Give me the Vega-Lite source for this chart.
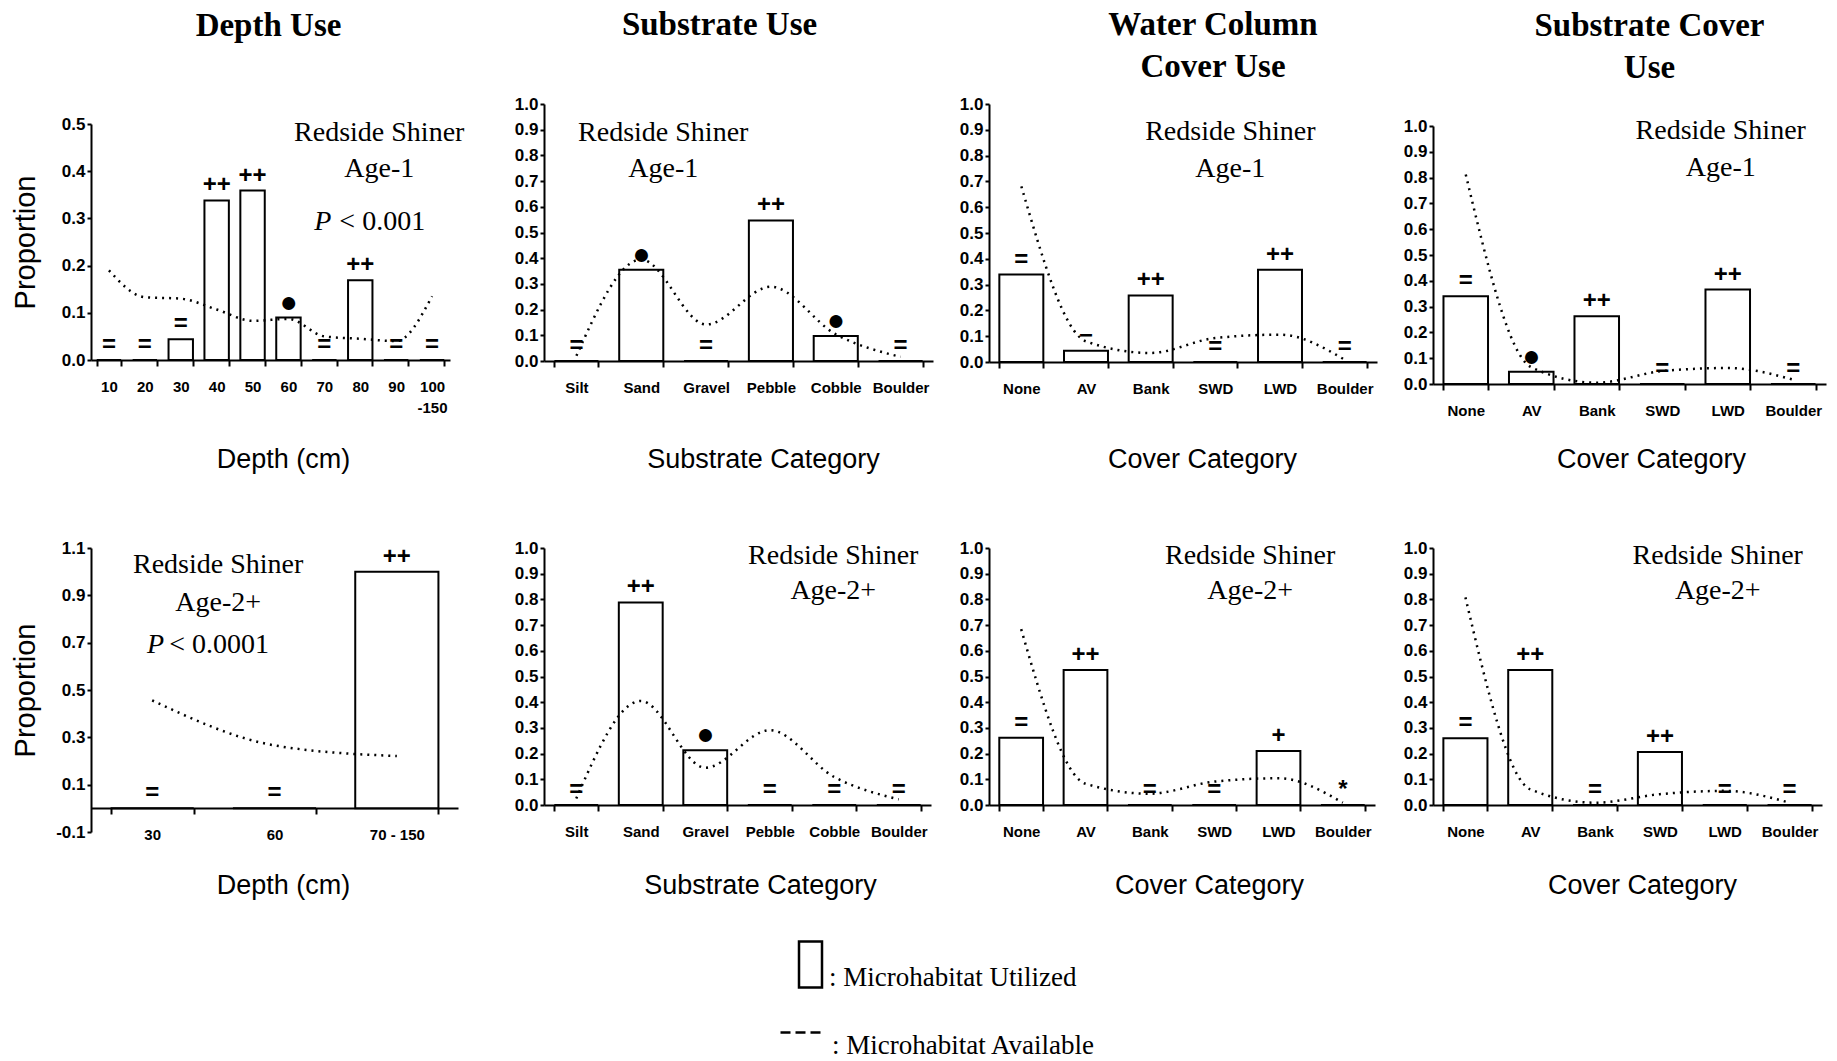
{
  "$schema": "https://vega.github.io/schema/vega-lite/v6.json",
  "background": "white",
  "padding": {"left": 10, "top": 9, "right": 5, "bottom": 5},
  "config": {
    "view": {"stroke": null},
    "font": "Liberation Sans",
    "axis": {"grid": false, "domainColor": "black", "domainWidth": 2, "tickColor": "black", "tickWidth": 2, "labelColor": "black", "labelFont": "Liberation Sans", "labelFontWeight": "bold", "labelFontSize": 17, "titleColor": "black", "titleFont": "Liberation Sans", "titleFontWeight": "normal", "titleFontSize": 27, "labelOverlap": false},
    "axisX": {"tickSize": 6, "labelPadding": 13, "labelAngle": 0, "tickBand": "extent", "labelFontSize": 15, "titleBaseline": "alphabetic", "labelLineHeight": 21},
    "axisY": {"tickSize": 4, "labelPadding": 2},
    "title": {"font": "Liberation Serif", "fontSize": 33, "fontWeight": "bold", "color": "black", "lineHeight": 42, "anchor": "middle", "offset": 15},
    "legend": {"padding": 0, "labelLimit": 0}
  },
  "datasets": {
    "depth1": [
      {"cat": "10", "used": 0, "avail": 0.19, "sig": "="},
      {"cat": "20", "used": 0, "avail": 0.133, "sig": "="},
      {"cat": "30", "used": 0.044, "avail": 0.13, "sig": "="},
      {"cat": "40", "used": 0.338, "avail": 0.107, "sig": "++"},
      {"cat": "50", "used": 0.359, "avail": 0.083, "sig": "++"},
      {"cat": "60", "used": 0.09, "avail": 0.087, "sig": "●"},
      {"cat": "70", "used": 0, "avail": 0.05, "sig": "="},
      {"cat": "80", "used": 0.169, "avail": 0.045, "sig": "++"},
      {"cat": "90", "used": 0, "avail": 0.04, "sig": "="},
      {"cat": "100-150", "used": 0, "avail": 0.135, "sig": "="}
    ],
    "sub1": [
      {"cat": "Silt", "used": 0, "avail": 0.02, "sig": "="},
      {"cat": "Sand", "used": 0.355, "avail": 0.395, "sig": "●"},
      {"cat": "Gravel", "used": 0, "avail": 0.142, "sig": "="},
      {"cat": "Pebble", "used": 0.547, "avail": 0.289, "sig": "++"},
      {"cat": "Cobble", "used": 0.097, "avail": 0.104, "sig": "●"},
      {"cat": "Boulder", "used": 0, "avail": 0.016, "sig": "="}
    ],
    "wc1": [
      {"cat": "None", "used": 0.339, "avail": 0.681, "sig": "="},
      {"cat": "AV", "used": 0.044, "avail": 0.08, "sig": "−"},
      {"cat": "Bank", "used": 0.258, "avail": 0.035, "sig": "++"},
      {"cat": "SWD", "used": 0, "avail": 0.093, "sig": "="},
      {"cat": "LWD", "used": 0.358, "avail": 0.106, "sig": "++"},
      {"cat": "Boulder", "used": 0, "avail": 0.009, "sig": "="}
    ],
    "sc1": [
      {"cat": "None", "used": 0.34, "avail": 0.812, "sig": "="},
      {"cat": "AV", "used": 0.047, "avail": 0.065, "sig": "●"},
      {"cat": "Bank", "used": 0.263, "avail": 0.005, "sig": "++"},
      {"cat": "SWD", "used": 0, "avail": 0.05, "sig": "="},
      {"cat": "LWD", "used": 0.366, "avail": 0.062, "sig": "++"},
      {"cat": "Boulder", "used": 0, "avail": 0.017, "sig": "="}
    ],
    "depth2": [
      {"cat": "30", "used": 0, "avail": 0.456, "sig": "="},
      {"cat": "60", "used": 0, "avail": 0.266, "sig": "="},
      {"cat": "70 - 150", "used": 1.0, "avail": 0.221, "sig": "++"}
    ],
    "sub2": [
      {"cat": "Silt", "used": 0, "avail": 0.025, "sig": "="},
      {"cat": "Sand", "used": 0.788, "avail": 0.405, "sig": "++"},
      {"cat": "Gravel", "used": 0.213, "avail": 0.145, "sig": "●"},
      {"cat": "Pebble", "used": 0, "avail": 0.291, "sig": "="},
      {"cat": "Cobble", "used": 0, "avail": 0.109, "sig": "="},
      {"cat": "Boulder", "used": 0, "avail": 0.022, "sig": "="}
    ],
    "wc2": [
      {"cat": "None", "used": 0.262, "avail": 0.684, "sig": "="},
      {"cat": "AV", "used": 0.525, "avail": 0.083, "sig": "++"},
      {"cat": "Bank", "used": 0, "avail": 0.044, "sig": "="},
      {"cat": "SWD", "used": 0, "avail": 0.091, "sig": "="},
      {"cat": "LWD", "used": 0.21, "avail": 0.104, "sig": "+"},
      {"cat": "Boulder", "used": 0, "avail": 0.009, "sig": "*"}
    ],
    "sc2": [
      {"cat": "None", "used": 0.26, "avail": 0.808, "sig": "="},
      {"cat": "AV", "used": 0.525, "avail": 0.061, "sig": "++"},
      {"cat": "Bank", "used": 0, "avail": 0.009, "sig": "="},
      {"cat": "SWD", "used": 0.206, "avail": 0.042, "sig": "++"},
      {"cat": "LWD", "used": 0, "avail": 0.055, "sig": "="},
      {"cat": "Boulder", "used": 0, "avail": 0.009, "sig": "="}
    ]
  },
  "columns": 4,
  "spacing": {"row": 164, "column": 56},
  "bounds": "flush",
  "concat": [
    {
      "data": {"name": "depth1"}, "width": 397, "height": 280,
      "title": {"text": ["Depth Use", " "], "dx": -21, "offset": 19},
      "encoding": {"x": {"field": "cat", "type": "nominal", "scale": {"domain": ["10","20","30","40","50","60","70","80","90","100-150"], "range": [0, 359], "paddingInner": 0.32, "paddingOuter": 0.16}, "axis": {"title": "Depth (cm)", "offset": -24, "titleX": 192, "titleY": 107, "labelExpr": "datum.value == '100-150' ? ['100', '-150'] : datum.value"}}},
      "layer": [
        {"mark": {"type": "bar", "stroke": "black", "strokeWidth": 2},
         "encoding": {
           "y": {"field": "used", "type": "quantitative", "scale": {"domain": [0, 0.5], "range": [256, 20], "nice": false}, "axis": {"title": "Proportion", "values": [0, 0.1, 0.2, 0.3, 0.4, 0.5], "format": ".1f", "labelOverlap": false, "titleX": -66, "titleBaseline": "middle", "titleFontSize": 29}},
           "fill": {"datum": "Microhabitat Utilized", "scale": {"range": ["white"]}, "legend": {"orient": "none", "legendX": 695, "legendY": 836, "title": null, "symbolType": "M-0.5,-1H0.5V1H-0.5Z", "symbolSize": 2116, "symbolStrokeColor": "black", "symbolStrokeWidth": 2.5, "symbolFillColor": "white", "labelOffset": -6, "labelBaseline": "top", "labelExpr": "': ' + datum.label", "labelFont": "Liberation Serif", "labelFontSize": 27, "labelColor": "black"}}
         }},
        {"mark": {"type": "line", "color": "black", "strokeWidth": 2.5, "interpolate": "monotone", "strokeDash": [2, 5], "strokeCap": "butt"},
         "encoding": {"y": {"field": "avail", "type": "quantitative", "axis": {"title": "Proportion", "values": [0, 0.1, 0.2, 0.3, 0.4, 0.5], "format": ".1f", "labelOverlap": false, "titleX": -66, "titleBaseline": "middle", "titleFontSize": 29}}}},
        {"data": {"values": [{}]}, "mark": {"type": "line", "color": "black", "strokeWidth": 2.5},
         "encoding": {
           "x": {"datum": "10"}, "y": {"datum": 0, "axis": {"title": "Proportion", "values": [0, 0.1, 0.2, 0.3, 0.4, 0.5], "format": ".1f", "labelOverlap": false, "titleX": -66, "titleBaseline": "middle", "titleFontSize": 29}},
           "strokeDash": {"datum": "Microhabitat Available", "scale": {"range": [[10, 5]]}, "legend": {"orient": "none", "legendX": 688, "legendY": 907, "title": null, "symbolType": "stroke", "symbolSize": 1600, "symbolStrokeColor": "black", "symbolStrokeWidth": 2.5, "labelOffset": 10, "labelBaseline": "top", "labelExpr": "': ' + datum.label", "labelFont": "Liberation Serif", "labelFontSize": 27, "labelColor": "black"}}
         }},
        {"mark": {"type": "text", "font": "Liberation Sans", "fontWeight": "bold", "baseline": "middle", "dy": -15, "color": "black"},
         "encoding": {"y": {"field": "used", "type": "quantitative", "axis": {"title": "Proportion", "values": [0, 0.1, 0.2, 0.3, 0.4, 0.5], "format": ".1f", "labelOverlap": false, "titleX": -66, "titleBaseline": "middle", "titleFontSize": 29}}, "text": {"field": "sig"}, "size": {"condition": {"test": "datum.sig == '●'", "value": 30}, "value": 24}}},
        {"data": {"values": [{}]}, "mark": {"type": "text", "font": "Liberation Serif", "fontSize": 28, "align": "center", "baseline": "alphabetic", "lineHeight": 36, "dx": 19, "color": "black"},
         "encoding": {"x": {"datum": "80"}, "y": {"datum": 0.464}, "text": {"value": ["Redside Shiner", "Age-1"]}}},
        {"data": {"values": [{}]}, "mark": {"type": "text", "font": "Liberation Serif", "fontSize": 28, "fontStyle": "italic", "align": "right", "baseline": "alphabetic", "dx": 7, "color": "black"},
         "encoding": {"x": {"datum": "70"}, "y": {"datum": 0.275}, "text": {"value": "P"}}},
        {"data": {"values": [{}]}, "mark": {"type": "text", "font": "Liberation Serif", "fontSize": 28, "align": "left", "baseline": "alphabetic", "dx": 15, "color": "black"},
         "encoding": {"x": {"datum": "70"}, "y": {"datum": 0.275}, "text": {"value": "< 0.001"}}}
      ]
    },
    {
      "data": {"name": "sub1"}, "width": 389, "height": 280,
      "title": {"text": ["Substrate Use", " "], "dx": -19, "offset": 11},
      "encoding": {"x": {"field": "cat", "type": "nominal", "scale": {"domain": ["Silt","Sand","Gravel","Pebble","Cobble","Boulder"], "paddingInner": 0.32, "paddingOuter": 0.16}, "axis": {"title": "Substrate Category", "offset": -23, "titleX": 219, "titleY": 106}}},
      "layer": [
        {"mark": {"type": "bar", "fill": "white", "stroke": "black", "strokeWidth": 2},
         "encoding": {"y": {"field": "used", "type": "quantitative", "scale": {"domain": [0, 1], "range": [257, 0], "nice": false}, "axis": {"title": null, "values": [0, 0.1, 0.2, 0.3, 0.4, 0.5, 0.6, 0.7, 0.8, 0.9, 1], "format": ".1f", "labelOverlap": false}}}},
        {"mark": {"type": "line", "color": "black", "strokeWidth": 2.5, "interpolate": "monotone", "strokeDash": [2, 5], "strokeCap": "butt"},
         "encoding": {"y": {"field": "avail", "type": "quantitative", "axis": {"title": null, "values": [0, 0.1, 0.2, 0.3, 0.4, 0.5, 0.6, 0.7, 0.8, 0.9, 1], "format": ".1f", "labelOverlap": false}}}},
        {"mark": {"type": "text", "font": "Liberation Sans", "fontWeight": "bold", "baseline": "middle", "dy": -15, "color": "black"},
         "encoding": {"y": {"field": "used", "type": "quantitative", "axis": {"title": null, "values": [0, 0.1, 0.2, 0.3, 0.4, 0.5, 0.6, 0.7, 0.8, 0.9, 1], "format": ".1f", "labelOverlap": false}}, "text": {"field": "sig"}, "size": {"condition": {"test": "datum.sig == '●'", "value": 30}, "value": 24}}},
        {"data": {"values": [{}]}, "mark": {"type": "text", "font": "Liberation Serif", "fontSize": 28, "align": "center", "baseline": "alphabetic", "lineHeight": 36, "dx": 22, "color": "black"},
         "encoding": {"x": {"datum": "Sand"}, "y": {"datum": 0.856, "axis": {"title": null, "values": [0, 0.1, 0.2, 0.3, 0.4, 0.5, 0.6, 0.7, 0.8, 0.9, 1], "format": ".1f", "labelOverlap": false}}, "text": {"value": ["Redside Shiner", "Age-1"]}}}
      ]
    },
    {
      "data": {"name": "wc1"}, "width": 388, "height": 280,
      "title": {"text": ["Water Column", "Cover Use"], "dx": 30, "offset": 11},
      "encoding": {"x": {"field": "cat", "type": "nominal", "scale": {"domain": ["None","AV","Bank","SWD","LWD","Boulder"], "paddingInner": 0.32, "paddingOuter": 0.16}, "axis": {"title": "Cover Category", "offset": -22, "titleX": 213, "titleY": 105}}},
      "layer": [
        {"mark": {"type": "bar", "fill": "white", "stroke": "black", "strokeWidth": 2},
         "encoding": {"y": {"field": "used", "type": "quantitative", "scale": {"domain": [0, 1], "range": [258, 0], "nice": false}, "axis": {"title": null, "values": [0, 0.1, 0.2, 0.3, 0.4, 0.5, 0.6, 0.7, 0.8, 0.9, 1], "format": ".1f", "labelOverlap": false}}}},
        {"mark": {"type": "line", "color": "black", "strokeWidth": 2.5, "interpolate": "monotone", "strokeDash": [2, 5], "strokeCap": "butt"},
         "encoding": {"y": {"field": "avail", "type": "quantitative", "axis": {"title": null, "values": [0, 0.1, 0.2, 0.3, 0.4, 0.5, 0.6, 0.7, 0.8, 0.9, 1], "format": ".1f", "labelOverlap": false}}}},
        {"mark": {"type": "text", "font": "Liberation Sans", "fontWeight": "bold", "baseline": "middle", "dy": -15, "color": "black"},
         "encoding": {"y": {"field": "used", "type": "quantitative", "axis": {"title": null, "values": [0, 0.1, 0.2, 0.3, 0.4, 0.5, 0.6, 0.7, 0.8, 0.9, 1], "format": ".1f", "labelOverlap": false}}, "text": {"field": "sig"}, "size": {"condition": {"test": "datum.sig == '●'", "value": 30}, "value": 24}}},
        {"data": {"values": [{}]}, "mark": {"type": "text", "font": "Liberation Serif", "fontSize": 28, "align": "center", "baseline": "alphabetic", "lineHeight": 37, "dx": 15, "color": "black"},
         "encoding": {"x": {"datum": "SWD"}, "y": {"datum": 0.86, "axis": {"title": null, "values": [0, 0.1, 0.2, 0.3, 0.4, 0.5, 0.6, 0.7, 0.8, 0.9, 1], "format": ".1f", "labelOverlap": false}}, "text": {"value": ["Redside Shiner", "Age-1"]}}}
      ]
    },
    {
      "data": {"name": "sc1"}, "width": 393, "height": 280,
      "title": {"text": ["Substrate Cover", "Use"], "dx": 20, "offset": 19},
      "encoding": {"x": {"field": "cat", "type": "nominal", "scale": {"domain": ["None","AV","Bank","SWD","LWD","Boulder"], "paddingInner": 0.32, "paddingOuter": 0.16}, "axis": {"title": "Cover Category", "titleX": 218, "titleY": 83}}},
      "layer": [
        {"mark": {"type": "bar", "fill": "white", "stroke": "black", "strokeWidth": 2},
         "encoding": {"y": {"field": "used", "type": "quantitative", "scale": {"domain": [0, 1], "range": [280, 22], "nice": false}, "axis": {"title": null, "values": [0, 0.1, 0.2, 0.3, 0.4, 0.5, 0.6, 0.7, 0.8, 0.9, 1], "format": ".1f", "labelOverlap": false}}}},
        {"mark": {"type": "line", "color": "black", "strokeWidth": 2.5, "interpolate": "monotone", "strokeDash": [2, 5], "strokeCap": "butt"},
         "encoding": {"y": {"field": "avail", "type": "quantitative", "axis": {"title": null, "values": [0, 0.1, 0.2, 0.3, 0.4, 0.5, 0.6, 0.7, 0.8, 0.9, 1], "format": ".1f", "labelOverlap": false}}}},
        {"mark": {"type": "text", "font": "Liberation Sans", "fontWeight": "bold", "baseline": "middle", "dy": -15, "color": "black"},
         "encoding": {"y": {"field": "used", "type": "quantitative", "axis": {"title": null, "values": [0, 0.1, 0.2, 0.3, 0.4, 0.5, 0.6, 0.7, 0.8, 0.9, 1], "format": ".1f", "labelOverlap": false}}, "text": {"field": "sig"}, "size": {"condition": {"test": "datum.sig == '●'", "value": 30}, "value": 24}}},
        {"data": {"values": [{}]}, "mark": {"type": "text", "font": "Liberation Serif", "fontSize": 28, "align": "center", "baseline": "alphabetic", "lineHeight": 37, "dx": -7, "color": "black"},
         "encoding": {"x": {"datum": "LWD"}, "y": {"datum": 0.95, "axis": {"title": null, "values": [0, 0.1, 0.2, 0.3, 0.4, 0.5, 0.6, 0.7, 0.8, 0.9, 1], "format": ".1f", "labelOverlap": false}}, "text": {"value": ["Redside Shiner", "Age-1"]}}}
      ]
    },
    {
      "data": {"name": "depth2"}, "width": 397, "height": 284,
      "encoding": {"x": {"field": "cat", "type": "nominal", "scale": {"domain": ["30","60","70 - 150"], "range": [0, 367], "paddingInner": 0.32, "paddingOuter": 0.16}, "axis": {"title": "Depth (cm)", "offset": -24, "titleX": 192, "titleY": 85}}},
      "layer": [
        {"mark": {"type": "bar", "fill": "white", "stroke": "black", "strokeWidth": 2},
         "encoding": {"y": {"field": "used", "type": "quantitative", "scale": {"domain": [-0.1, 1.1], "nice": false, "zero": false}, "axis": {"title": "Proportion", "values": [-0.1, 0.1, 0.3, 0.5, 0.7, 0.9, 1.1], "labelOverlap": false, "labelExpr": "datum.value < 0 ? '-' + format(abs(datum.value), '.1f') : format(datum.value, '.1f')", "titleX": -66, "titleBaseline": "middle", "titleFontSize": 29}}}},
        {"mark": {"type": "line", "color": "black", "strokeWidth": 2.5, "interpolate": "monotone", "strokeDash": [2, 5], "strokeCap": "butt"},
         "encoding": {"y": {"field": "avail", "type": "quantitative", "axis": {"title": "Proportion", "values": [-0.1, 0.1, 0.3, 0.5, 0.7, 0.9, 1.1], "labelOverlap": false, "labelExpr": "datum.value < 0 ? '-' + format(abs(datum.value), '.1f') : format(datum.value, '.1f')", "titleX": -66, "titleBaseline": "middle", "titleFontSize": 29}}}},
        {"mark": {"type": "text", "font": "Liberation Sans", "fontWeight": "bold", "baseline": "middle", "dy": -15, "color": "black"},
         "encoding": {"y": {"field": "used", "type": "quantitative", "axis": {"title": "Proportion", "values": [-0.1, 0.1, 0.3, 0.5, 0.7, 0.9, 1.1], "labelOverlap": false, "labelExpr": "datum.value < 0 ? '-' + format(abs(datum.value), '.1f') : format(datum.value, '.1f')", "titleX": -66, "titleBaseline": "middle", "titleFontSize": 29}}, "text": {"field": "sig"}, "size": {"condition": {"test": "datum.sig == '●'", "value": 30}, "value": 24}}},
        {"data": {"values": [{}]}, "mark": {"type": "text", "font": "Liberation Serif", "fontSize": 28, "align": "center", "baseline": "alphabetic", "lineHeight": 38, "dx": 66, "color": "black"},
         "encoding": {"x": {"datum": "30"}, "y": {"datum": 0.994}, "text": {"value": ["Redside Shiner", "Age-2+"]}}},
        {"data": {"values": [{}]}, "mark": {"type": "text", "font": "Liberation Serif", "fontSize": 28, "fontStyle": "italic", "align": "right", "baseline": "alphabetic", "dx": 12, "color": "black"},
         "encoding": {"x": {"datum": "30"}, "y": {"datum": 0.656}, "text": {"value": "P"}}},
        {"data": {"values": [{}]}, "mark": {"type": "text", "font": "Liberation Serif", "fontSize": 28, "align": "left", "baseline": "alphabetic", "dx": 17, "color": "black"},
         "encoding": {"x": {"datum": "30"}, "y": {"datum": 0.656}, "text": {"value": "< 0.0001"}}}
      ]
    },
    {
      "data": {"name": "sub2"}, "width": 387, "height": 257,
      "encoding": {"x": {"field": "cat", "type": "nominal", "scale": {"domain": ["Silt","Sand","Gravel","Pebble","Cobble","Boulder"], "paddingInner": 0.32, "paddingOuter": 0.16}, "axis": {"title": "Substrate Category", "titleX": 216, "titleY": 88}}},
      "layer": [
        {"mark": {"type": "bar", "fill": "white", "stroke": "black", "strokeWidth": 2},
         "encoding": {"y": {"field": "used", "type": "quantitative", "scale": {"domain": [0, 1], "nice": false}, "axis": {"title": null, "values": [0, 0.1, 0.2, 0.3, 0.4, 0.5, 0.6, 0.7, 0.8, 0.9, 1], "format": ".1f", "labelOverlap": false}}}},
        {"mark": {"type": "line", "color": "black", "strokeWidth": 2.5, "interpolate": "monotone", "strokeDash": [2, 5], "strokeCap": "butt"},
         "encoding": {"y": {"field": "avail", "type": "quantitative", "axis": {"title": null, "values": [0, 0.1, 0.2, 0.3, 0.4, 0.5, 0.6, 0.7, 0.8, 0.9, 1], "format": ".1f", "labelOverlap": false}}}},
        {"mark": {"type": "text", "font": "Liberation Sans", "fontWeight": "bold", "baseline": "middle", "dy": -15, "color": "black"},
         "encoding": {"y": {"field": "used", "type": "quantitative", "axis": {"title": null, "values": [0, 0.1, 0.2, 0.3, 0.4, 0.5, 0.6, 0.7, 0.8, 0.9, 1], "format": ".1f", "labelOverlap": false}}, "text": {"field": "sig"}, "size": {"condition": {"test": "datum.sig == '●'", "value": 30}, "value": 24}}},
        {"data": {"values": [{}]}, "mark": {"type": "text", "font": "Liberation Serif", "fontSize": 28, "align": "center", "baseline": "alphabetic", "lineHeight": 35, "dx": -1, "color": "black"},
         "encoding": {"x": {"datum": "Cobble"}, "y": {"datum": 0.938, "axis": {"title": null, "values": [0, 0.1, 0.2, 0.3, 0.4, 0.5, 0.6, 0.7, 0.8, 0.9, 1], "format": ".1f", "labelOverlap": false}}, "text": {"value": ["Redside Shiner", "Age-2+"]}}}
      ]
    },
    {
      "data": {"name": "wc2"}, "width": 386, "height": 257,
      "encoding": {"x": {"field": "cat", "type": "nominal", "scale": {"domain": ["None","AV","Bank","SWD","LWD","Boulder"], "paddingInner": 0.32, "paddingOuter": 0.16}, "axis": {"title": "Cover Category", "titleX": 220, "titleY": 88}}},
      "layer": [
        {"mark": {"type": "bar", "fill": "white", "stroke": "black", "strokeWidth": 2},
         "encoding": {"y": {"field": "used", "type": "quantitative", "scale": {"domain": [0, 1], "nice": false}, "axis": {"title": null, "values": [0, 0.1, 0.2, 0.3, 0.4, 0.5, 0.6, 0.7, 0.8, 0.9, 1], "format": ".1f", "labelOverlap": false}}}},
        {"mark": {"type": "line", "color": "black", "strokeWidth": 2.5, "interpolate": "monotone", "strokeDash": [2, 5], "strokeCap": "butt"},
         "encoding": {"y": {"field": "avail", "type": "quantitative", "axis": {"title": null, "values": [0, 0.1, 0.2, 0.3, 0.4, 0.5, 0.6, 0.7, 0.8, 0.9, 1], "format": ".1f", "labelOverlap": false}}}},
        {"mark": {"type": "text", "font": "Liberation Sans", "fontWeight": "bold", "baseline": "middle", "dy": -15, "color": "black"},
         "encoding": {"y": {"field": "used", "type": "quantitative", "axis": {"title": null, "values": [0, 0.1, 0.2, 0.3, 0.4, 0.5, 0.6, 0.7, 0.8, 0.9, 1], "format": ".1f", "labelOverlap": false}}, "text": {"field": "sig"}, "size": {"condition": {"test": "datum.sig == '●'", "value": 30}, "value": 24}}},
        {"data": {"values": [{}]}, "mark": {"type": "text", "font": "Liberation Serif", "fontSize": 28, "align": "center", "baseline": "alphabetic", "lineHeight": 35, "dx": 36, "color": "black"},
         "encoding": {"x": {"datum": "SWD"}, "y": {"datum": 0.938, "axis": {"title": null, "values": [0, 0.1, 0.2, 0.3, 0.4, 0.5, 0.6, 0.7, 0.8, 0.9, 1], "format": ".1f", "labelOverlap": false}}, "text": {"value": ["Redside Shiner", "Age-2+"]}}}
      ]
    },
    {
      "data": {"name": "sc2"}, "width": 389, "height": 257,
      "encoding": {"x": {"field": "cat", "type": "nominal", "scale": {"domain": ["None","AV","Bank","SWD","LWD","Boulder"], "paddingInner": 0.32, "paddingOuter": 0.16}, "axis": {"title": "Cover Category", "titleX": 209, "titleY": 88}}},
      "layer": [
        {"mark": {"type": "bar", "fill": "white", "stroke": "black", "strokeWidth": 2},
         "encoding": {"y": {"field": "used", "type": "quantitative", "scale": {"domain": [0, 1], "nice": false}, "axis": {"title": null, "values": [0, 0.1, 0.2, 0.3, 0.4, 0.5, 0.6, 0.7, 0.8, 0.9, 1], "format": ".1f", "labelOverlap": false}}}},
        {"mark": {"type": "line", "color": "black", "strokeWidth": 2.5, "interpolate": "monotone", "strokeDash": [2, 5], "strokeCap": "butt"},
         "encoding": {"y": {"field": "avail", "type": "quantitative", "axis": {"title": null, "values": [0, 0.1, 0.2, 0.3, 0.4, 0.5, 0.6, 0.7, 0.8, 0.9, 1], "format": ".1f", "labelOverlap": false}}}},
        {"mark": {"type": "text", "font": "Liberation Sans", "fontWeight": "bold", "baseline": "middle", "dy": -15, "color": "black"},
         "encoding": {"y": {"field": "used", "type": "quantitative", "axis": {"title": null, "values": [0, 0.1, 0.2, 0.3, 0.4, 0.5, 0.6, 0.7, 0.8, 0.9, 1], "format": ".1f", "labelOverlap": false}}, "text": {"field": "sig"}, "size": {"condition": {"test": "datum.sig == '●'", "value": 30}, "value": 24}}},
        {"data": {"values": [{}]}, "mark": {"type": "text", "font": "Liberation Serif", "fontSize": 28, "align": "center", "baseline": "alphabetic", "lineHeight": 35, "dx": -7, "color": "black"},
         "encoding": {"x": {"datum": "LWD"}, "y": {"datum": 0.938, "axis": {"title": null, "values": [0, 0.1, 0.2, 0.3, 0.4, 0.5, 0.6, 0.7, 0.8, 0.9, 1], "format": ".1f", "labelOverlap": false}}, "text": {"value": ["Redside Shiner", "Age-2+"]}}}
      ]
    }
  ]
}
